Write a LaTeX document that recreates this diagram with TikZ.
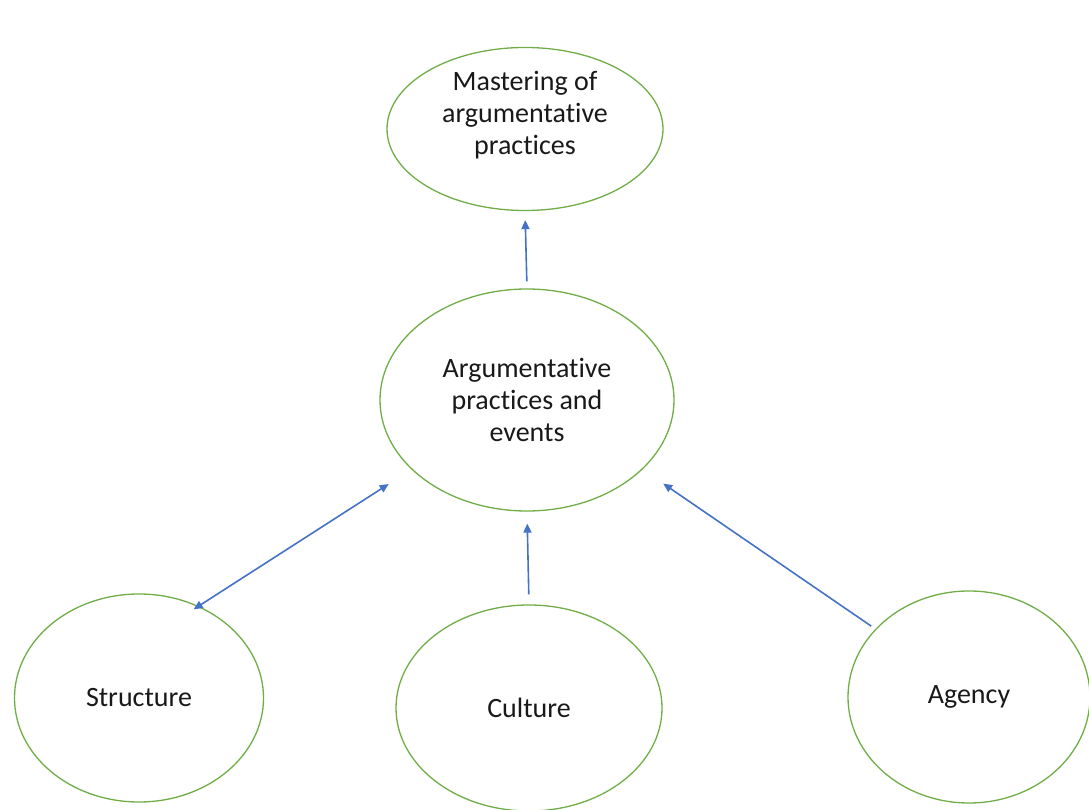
\documentclass[tikz,border=0pt]{standalone}
\usepackage{fontspec}
\setmainfont[Ligatures=NoCommon]{Carlito}
\usepackage{tikz}
\usetikzlibrary{shapes.geometric, arrows.meta}

\definecolor{ringgreen}{RGB}{112,173,71}
\definecolor{linkblue}{RGB}{68,114,196}

\begin{document}
\begin{tikzpicture}[x=1pt, y=1pt,
    bubble/.style={ellipse, draw=ringgreen, line width=1.3pt, inner sep=0pt,
        align=center, text=black!90, font=\fontsize{28}{32}\selectfont},
    link/.style={draw=linkblue, line width=1.6pt, ->},
    >={Triangle[length=9pt, width=8pt]}]
    \useasboundingbox (0,0) rectangle (1089,809);

    % Outcome at the top (empty last line lifts the text a bit)
    \node[bubble, minimum width=276, minimum height=154] (mastery) at (525,680)
        {Mastering of\\argumentative\\practices\\ \mbox{}};

    % Practices in the middle
    \node[bubble, minimum width=294, minimum height=222] (events) at (527,409)
        {Argumentative\\practices and\\events};

    % The three sources along the bottom
    \node[bubble, minimum width=249, minimum height=208] (structure) at (139,111) {Structure};
    \node[bubble, minimum width=266, minimum height=206] (culture) at (529,101) {Culture};
    \node[bubble, minimum width=242, minimum height=212] (agency) at (969,112) {Agency};

    % Arrows
    \draw[link, shorten <=7pt, shorten >=9pt] (events.north) -- (mastery.south);
    \draw[link, shorten <=10pt, shorten >=12pt] (culture.north) -- (events.south);
    \draw[link, <->, shorten <=-6pt, shorten >=27pt] (structure.57) -- (events.211);
    \draw[link, shorten <=5pt, shorten >=25pt] (agency.144) -- (events.329);
\end{tikzpicture}
\end{document}
